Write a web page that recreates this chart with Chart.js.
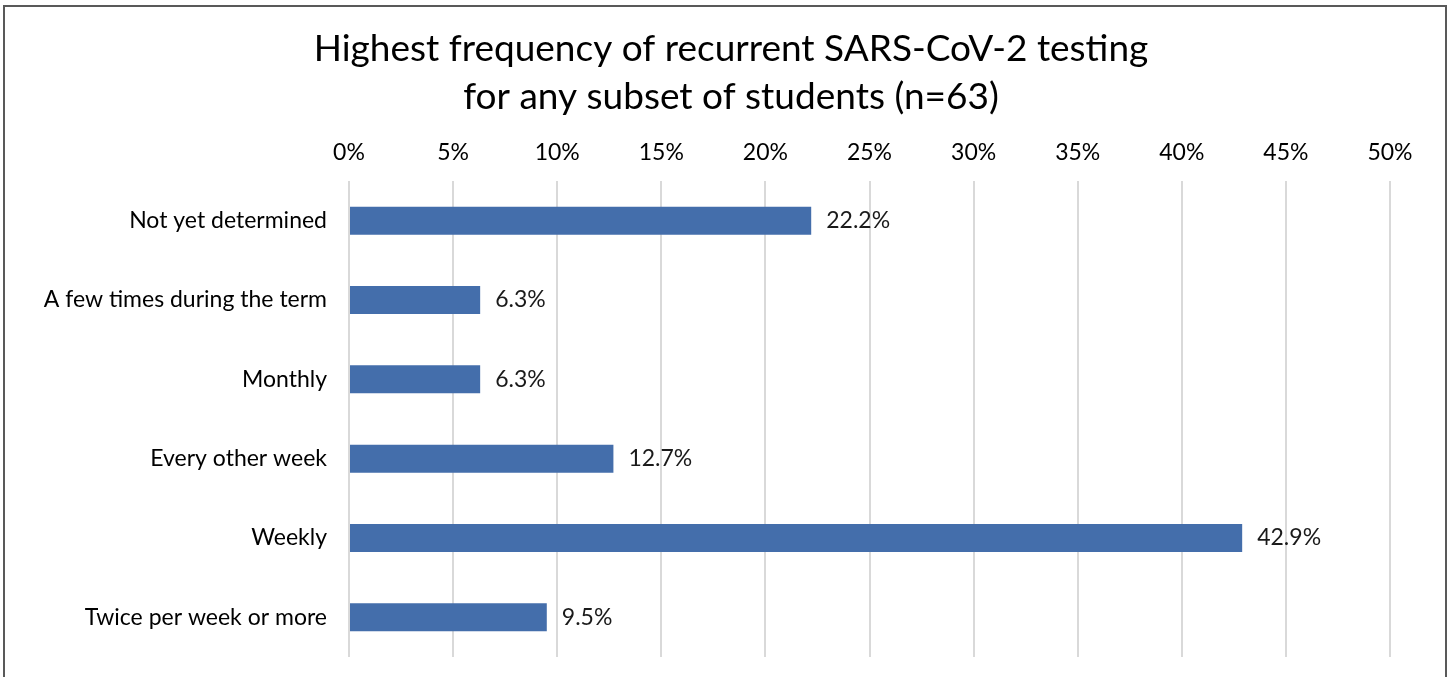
<!DOCTYPE html>
<html>
<head>
<meta charset="utf-8">
<script src="https://cdn.jsdelivr.net/npm/chart.js@4/dist/chart.umd.min.js"></script>
<style>
  html, body { margin: 0; padding: 0; background: #fff; }
  canvas { display: block; }
</style>
</head>
<body>
<canvas id="myChart" width="1450" height="677"></canvas>
<script>
const categories = [
    'Not yet determined',
    'A few times during the term',
    'Monthly',
    'Every other week',
    'Weekly',
    'Twice per week or more'
];
const shares = [22.2, 6.3, 6.3, 12.7, 42.9, 9.5];
const tickValues = [0, 5, 10, 15, 20, 25, 30, 35, 40, 45, 50];
const titleLines = ['Highest frequency of recurrent SARS-CoV-2 testing', 'for any subset of students (n=63)'];

// outer frame and title, drawn by hand so the title can sit where Excel put it
const framePlugin = {
    id: 'frame',
    beforeDraw(chart) {
        const c = chart.ctx;
        c.save();
        c.fillStyle = '#fff';
        c.fillRect(0, 0, chart.width, chart.height);
        c.strokeStyle = '#595959';
        c.lineWidth = 2;
        c.strokeRect(4, 6, 1442, 700);
        c.fillStyle = '#000';
        c.font = '37px Lato';
        c.textAlign = 'center';
        c.textBaseline = 'middle';
        titleLines.forEach((t, i) => c.fillText(t, 731, 49 + i * 48));
        c.restore();
    }
};

// value labels at the end of each bar
const valueLabels = {
    id: 'valueLabels',
    afterDatasetsDraw(chart) {
        const c = chart.ctx;
        const meta = chart.getDatasetMeta(0);
        c.save();
        c.font = '23px Lato';
        c.fillStyle = '#1a1a1a';
        c.textAlign = 'left';
        c.textBaseline = 'middle';
        meta.data.forEach((bar, i) => {
            c.fillText(shares[i].toFixed(1) + '%', bar.x + 15, bar.y);
        });
        c.restore();
    }
};

window.onload = function () {
    const ctx = document.getElementById('myChart').getContext('2d');

    new Chart(ctx, {
        type: 'bar',
        data: {
            labels: categories,
            datasets: [{
                data: shares,
                backgroundColor: '#446EAB',
                categoryPercentage: 1,
                barPercentage: 0.353
            }]
        },
        options: {
            indexAxis: 'y',
            responsive: false,
            animation: false,
            layout: { padding: { left: 0, right: 60, top: 120, bottom: 20 } },
            plugins: {
                legend: { display: false },
                tooltip: { enabled: false },
                title: { display: false }
            },
            scales: {
                x: {
                    position: 'top',
                    min: 0,
                    max: 50,
                    afterBuildTicks(scale) {
                        scale.ticks = tickValues.map(v => ({ value: v }));
                    },
                    afterFit(scale) { scale.height = 61; },
                    grid: { color: '#d9d9d9', lineWidth: 2, drawTicks: false },
                    border: { display: false },
                    ticks: {
                        padding: 15,
                        color: '#000',
                        font: { family: 'Lato', size: 23 },
                        callback: v => v + '%'
                    }
                },
                y: {
                    afterFit(scale) { scale.width = 349; },
                    // hidden tick marks only push the labels away from the bars
                    grid: { display: false, drawTicks: true, tickLength: 22 },
                    border: { display: false },
                    ticks: {
                        padding: 0,
                        color: '#000',
                        font: { family: 'Lato', size: 23 }
                    }
                }
            }
        },
        plugins: [framePlugin, valueLabels]
    });
};
</script>
</body>
</html>
